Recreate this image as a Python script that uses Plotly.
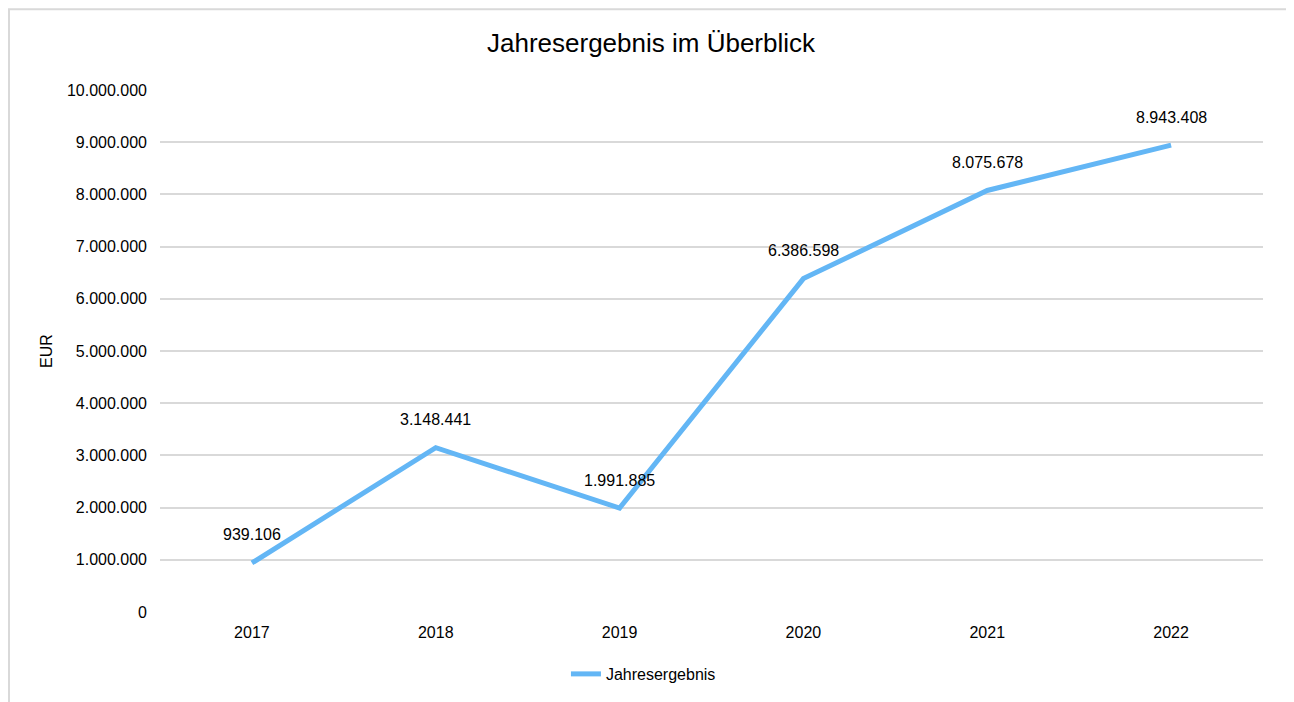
import plotly.graph_objects as go

jahre = ["2017", "2018", "2019", "2020", "2021", "2022"]
jahresergebnis = [939106, 3148441, 1991885, 6386598, 8075678, 8943408]

y_ticks = list(range(0, 10000001, 1000000))


def fmt(v):
    # deutsche Tausendertrennung
    return "{:,}".format(v).replace(",", ".")


y_labels = [fmt(v) for v in y_ticks]
pos = list(range(len(jahre)))

fig = go.Figure()
fig.add_trace(go.Scatter(
    x=pos, y=jahresergebnis, mode="lines", name="Jahresergebnis",
    line=dict(color="#63B6F5", width=5),
))

# Datenbeschriftungen ueber den Punkten
for p, v in zip(pos, jahresergebnis):
    fig.add_annotation(x=p, y=v, text=fmt(v), showarrow=False, yshift=28,
                       font=dict(size=16, color="#000000"))

# Rahmen um das Diagramm
fig.add_shape(type="rect", xref="paper", yref="paper",
              x0=-0.1369, x1=1.0245, y0=-0.25, y1=1.1549,
              line=dict(color="#D9D9D9", width=2), layer="below")

fig.update_layout(
    width=1286, height=694,
    margin=dict(l=152, r=31, t=82, b=89),
    paper_bgcolor="white", plot_bgcolor="white",
    font=dict(family="Arial, Liberation Sans, sans-serif", size=16, color="#000000"),
    title=dict(text="Jahresergebnis im Überblick", x=0.5, xanchor="center",
               y=1 - 35 / 694, yanchor="middle", font=dict(size=26)),
    showlegend=True,
    legend=dict(orientation="h", x=0.4383, xanchor="center", y=-0.1166, yanchor="middle",
                font=dict(size=16)),
    xaxis=dict(range=[-0.5, 5.5], tickvals=pos, ticktext=jahre, showgrid=False,
               showline=False, zeroline=False, ticks="", ticklabelstandoff=9),
    yaxis=dict(range=[0, 10000000], tickvals=y_ticks, ticktext=y_labels,
               showgrid=True, gridcolor="#D9D9D9", gridwidth=1.5, zeroline=False,
               ticks="", ticklabelstandoff=12,
               title=dict(text="EUR", font=dict(size=16), standoff=10)),
)

fig.write_html("out.html")
